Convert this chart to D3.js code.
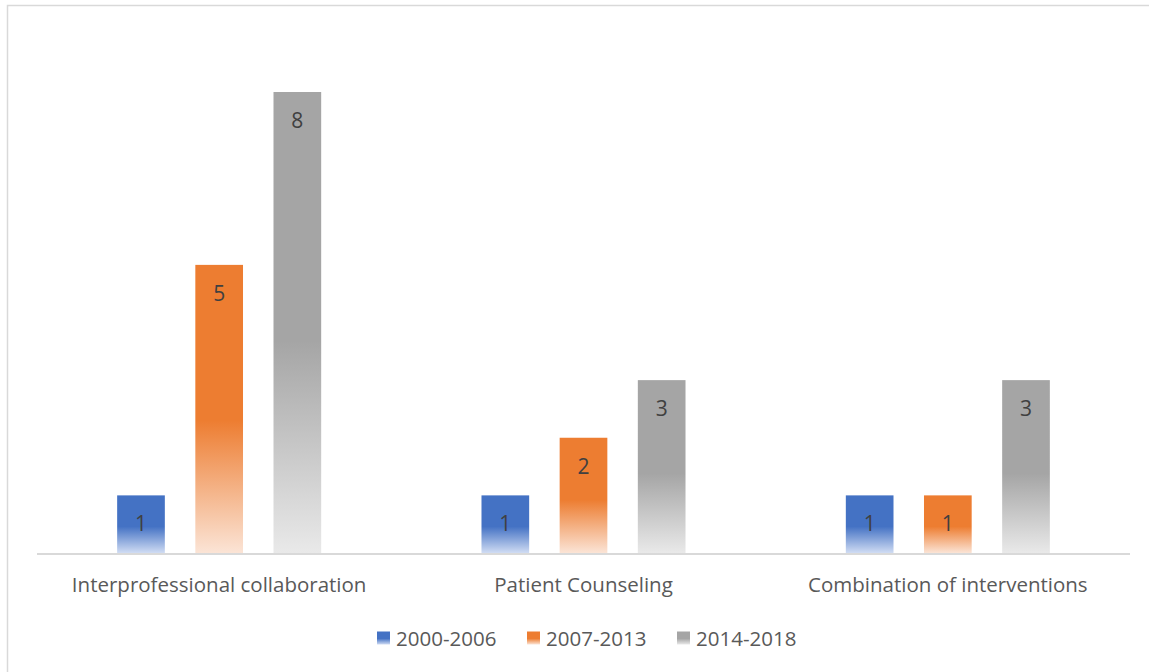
<!DOCTYPE html>
<html>
<head>
<meta charset="utf-8">
<script src="https://cdn.jsdelivr.net/npm/d3@7"></script>
<style>
  body { margin: 0; background: #fff; }
  svg { display: block; font-family: "Open Sans", "Noto Sans", sans-serif; }
</style>
</head>
<body>
<svg id="chart" width="1149" height="672"></svg>
<script>
var categories = ["Interprofessional collaboration", "Patient Counseling", "Combination of interventions"];
var seriesNames = ["2000-2006", "2007-2013", "2014-2018"];
var values2000 = [1, 1, 1];
var values2007 = [5, 2, 1];
var values2014 = [8, 3, 3];
var seriesColors = ["#4472c4", "#ed7d31", "#a5a5a5"];
var seriesTints = ["#d0dcf3", "#fbe4d6", "#e9e9e9"];

var svg = d3.select("#chart");
var W = 1149, H = 672;
var margin = { left: 37, right: 19, top: 34, bottom: 118 };

var series = [values2000, values2007, values2014];

// chart frame (only top and left show in the picture)
svg.append("rect")
    .attr("x", 7.5).attr("y", 5.5)
    .attr("width", W + 20).attr("height", H + 20)
    .attr("fill", "none").attr("stroke", "#d9d9d9").attr("stroke-width", 1.5);

// gradients
var defs = svg.append("defs");
seriesNames.forEach(function (name, i) {
  var g = defs.append("linearGradient")
      .attr("id", "grad" + i)
      .attr("x1", 0).attr("y1", 0).attr("x2", 0).attr("y2", 1);
  g.append("stop").attr("offset", "0%").attr("stop-color", seriesColors[i]);
  g.append("stop").attr("offset", "54%").attr("stop-color", seriesColors[i]);
  g.append("stop").attr("offset", "100%").attr("stop-color", seriesTints[i]);
});

var x0 = d3.scaleBand()
    .domain(categories)
    .range([margin.left, W - margin.right]);

var x1 = d3.scaleBand()
    .domain(d3.range(seriesNames.length))
    .range([0, x0.bandwidth() * 0.56])
    .paddingInner(0.39);

var y = d3.scaleLinear()
    .domain([0, 8])
    .range([H - margin.bottom - 1, 92]);

var groupOffset = (x0.bandwidth() - x1.range()[1]) / 2;

var groups = svg.selectAll("g.cat")
    .data(categories)
    .enter().append("g")
    .attr("class", "cat")
    .attr("transform", function (d) { return "translate(" + (x0(d) + groupOffset) + ",0)"; });

groups.each(function (cat, ci) {
  var g = d3.select(this);
  series.forEach(function (vals, si) {
    var v = vals[ci];
    g.append("rect")
        .attr("x", x1(si))
        .attr("y", y(v))
        .attr("width", x1.bandwidth())
        .attr("height", y(0) - y(v))
        .attr("fill", "url(#grad" + si + ")");
    g.append("text")
        .attr("x", x1(si) + x1.bandwidth() / 2)
        .attr("y", y(v) + 28)
        .attr("text-anchor", "middle")
        .attr("dominant-baseline", "central")
        .attr("font-size", 21)
        .attr("fill", "#404040")
        .text(v);
  });
});

// x axis line
svg.append("line")
    .attr("x1", margin.left).attr("x2", W - margin.right)
    .attr("y1", y(0) + 1).attr("y2", y(0) + 1)
    .attr("stroke", "#d9d9d9").attr("stroke-width", 2);

// category labels
svg.selectAll("text.cat")
    .data(categories)
    .enter().append("text")
    .attr("class", "cat")
    .attr("x", function (d) { return x0(d) + x0.bandwidth() / 2; })
    .attr("y", 584)
    .attr("text-anchor", "middle")
    .attr("dominant-baseline", "central")
    .attr("font-size", 20.5)
    .attr("fill", "#595959")
    .text(function (d) { return d; });

// legend
var legendX = [377, 527, 677];
var legend = svg.selectAll("g.legend")
    .data(seriesNames)
    .enter().append("g")
    .attr("class", "legend")
    .attr("transform", function (d, i) { return "translate(" + legendX[i] + ",638)"; });

legend.append("rect")
    .attr("y", -6.5)
    .attr("width", 13).attr("height", 13)
    .attr("fill", function (d, i) { return "url(#grad" + i + ")"; });

legend.append("text")
    .attr("x", 19)
    .attr("y", 0)
    .attr("dominant-baseline", "central")
    .attr("font-size", 20.5)
    .attr("fill", "#595959")
    .text(function (d) { return d; });
</script>
</body>
</html>
